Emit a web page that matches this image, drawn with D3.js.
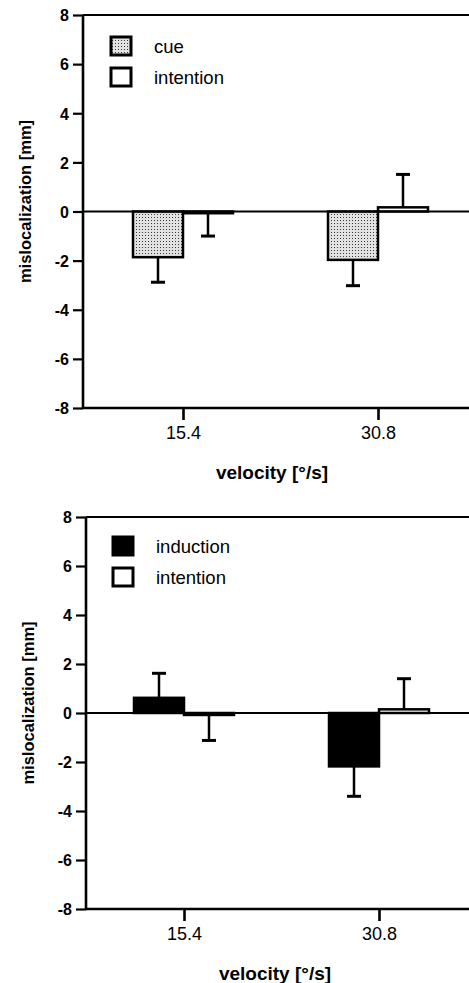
<!DOCTYPE html>
<html>
<head>
<meta charset="utf-8">
<script src="https://cdn.jsdelivr.net/npm/d3@7"></script>
<style>
  body { margin: 0; background: #fff; }
  svg { display: block; }
  text { font-family: "Liberation Sans", Arial, sans-serif; fill: #000; }
</style>
</head>
<body>
<div id="main"></div>
<script>
// velocity categories and y ticks
var velocities = ["15.4", "30.8"];
var yTicks = [-8, -6, -4, -2, 0, 2, 4, 6, 8];

// top panel: cue vs intention (mean, sem)
var cueMean = [-1.86, -1.97];
var cueErr = [1.02, 1.05];
var intentionTopMean = [-0.07, 0.17];
var intentionTopErr = [0.93, 1.34];

// bottom panel: induction vs intention
var inductionMean = [0.62, -2.18];
var inductionErr = [1.0, 1.22];
var intentionBotMean = [-0.08, 0.15];
var intentionBotErr = [1.04, 1.25];

var W = 469, H = 983;

var svg = d3.select("#main")
  .append("svg")
  .attr("width", W)
  .attr("height", H);

// stipple pattern for the cue bars
var pat = svg.append("defs").append("pattern")
  .attr("id", "stipple")
  .attr("width", 3)
  .attr("height", 3)
  .attr("patternUnits", "userSpaceOnUse");
pat.append("rect").attr("width", 3).attr("height", 3).attr("fill", "#e2e2e2");
pat.append("rect").attr("x", 1).attr("y", 1).attr("width", 1).attr("height", 1).attr("fill", "#3a3a3a");

function panel(opt) {
  var axisX = opt.axisX, yTop = opt.yTop, yBot = opt.yBot;

  var g = svg.append("g");

  var y = d3.scaleLinear().domain([-8, 8]).range([yBot, yTop]);
  var x0 = d3.scalePoint().domain(velocities).range([opt.x1, opt.x2]);
  var xs = d3.scaleBand().domain(opt.names).range([-50, 50]);

  var series = [
    { name: opt.names[0], mean: opt.means[0], err: opt.errs[0], fill: opt.fill },
    { name: opt.names[1], mean: opt.means[1], err: opt.errs[1], fill: "#fff" }
  ];

  // frame lines
  g.append("line")
    .attr("x1", axisX).attr("x2", W + 20)
    .attr("y1", y(8)).attr("y2", y(8))
    .attr("stroke", "#000").attr("stroke-width", 2.2);
  g.append("line")
    .attr("x1", axisX).attr("x2", W + 20)
    .attr("y1", y(-8)).attr("y2", y(-8))
    .attr("stroke", "#000").attr("stroke-width", 2.6);

  // bars with error bars
  series.forEach(function (s) {
    velocities.forEach(function (v, i) {
      var m = s.mean[i];
      var bx = x0(v) + xs(s.name);
      var bw = xs.bandwidth();
      var cx = bx + bw / 2;
      var tip = m >= 0 ? m + s.err[i] : m - s.err[i];
      g.append("line")
        .attr("x1", cx).attr("x2", cx)
        .attr("y1", y(m)).attr("y2", y(tip))
        .attr("stroke", "#000").attr("stroke-width", 2.5);
      g.append("line")
        .attr("x1", cx - 7).attr("x2", cx + 7)
        .attr("y1", y(tip)).attr("y2", y(tip))
        .attr("stroke", "#000").attr("stroke-width", 3);
      g.append("rect")
        .attr("x", bx)
        .attr("y", y(Math.max(0, m)))
        .attr("width", bw)
        .attr("height", Math.abs(y(m) - y(0)))
        .attr("fill", s.fill)
        .attr("stroke", "#000")
        .attr("stroke-width", 2.5);
    });
  });

  // zero line
  g.append("line")
    .attr("x1", axisX).attr("x2", W + 20)
    .attr("y1", y(0)).attr("y2", y(0))
    .attr("stroke", "#000").attr("stroke-width", 2.2);

  // y axis
  var ya = g.append("g")
    .attr("transform", "translate(" + axisX + ",0)")
    .call(d3.axisLeft(y).tickValues(yTicks).tickSize(10).tickPadding(4)
      .tickFormat(function (d) { return d < 0 ? "-" + Math.abs(d) : String(d); }));
  ya.select(".domain").attr("stroke-width", 2.6).attr("d", "M0," + y(8) + "V" + y(-8));
  ya.selectAll(".tick line").attr("stroke-width", 2.2);
  ya.selectAll(".tick text")
    .attr("font-family", null)
    .style("font-size", "16px")
    .style("font-weight", "bold")
    .attr("dy", "0.36em");

  // x axis
  var xa = g.append("g")
    .attr("transform", "translate(0," + y(-8) + ")")
    .call(d3.axisBottom(x0).tickSize(12).tickPadding(6));
  xa.select(".domain").remove();
  xa.selectAll(".tick line").attr("stroke-width", 2.6);
  xa.selectAll(".tick text")
    .attr("font-family", null)
    .style("font-size", "18px");

  // axis titles
  g.append("text")
    .attr("transform", "translate(" + (axisX - 52) + "," + (y(0) - 10) + ") rotate(-90)")
    .attr("text-anchor", "middle")
    .style("font-size", "16.5px")
    .style("font-weight", "bold")
    .text("mislocalization [mm]");
  g.append("text")
    .attr("x", axisX + 189)
    .attr("y", y(-8) + 71)
    .attr("text-anchor", "middle")
    .style("font-size", "19px")
    .style("font-weight", "bold")
    .text("velocity [°/s]");

  // legend
  series.forEach(function (s, i) {
    var ly = opt.legendY + i * 31;
    g.append("rect")
      .attr("x", opt.legendX).attr("y", ly)
      .attr("width", 20).attr("height", 18)
      .attr("fill", s.fill)
      .attr("stroke", "#000").attr("stroke-width", 3);
    g.append("text")
      .attr("x", opt.legendX + 43)
      .attr("y", ly + 16)
      .style("font-size", "18.5px")
      .text(s.name);
  });
}

panel({
  axisX: 83, yTop: 15, yBot: 408, x1: 183, x2: 378,
  names: ["cue", "intention"],
  means: [cueMean, intentionTopMean],
  errs: [cueErr, intentionTopErr],
  fill: "url(#stipple)",
  legendX: 111, legendY: 37
});

panel({
  axisX: 86, yTop: 517, yBot: 909, x1: 184, x2: 379,
  names: ["induction", "intention"],
  means: [inductionMean, intentionBotMean],
  errs: [inductionErr, intentionBotErr],
  fill: "#000",
  legendX: 113, legendY: 537
});
</script>
</body>
</html>
